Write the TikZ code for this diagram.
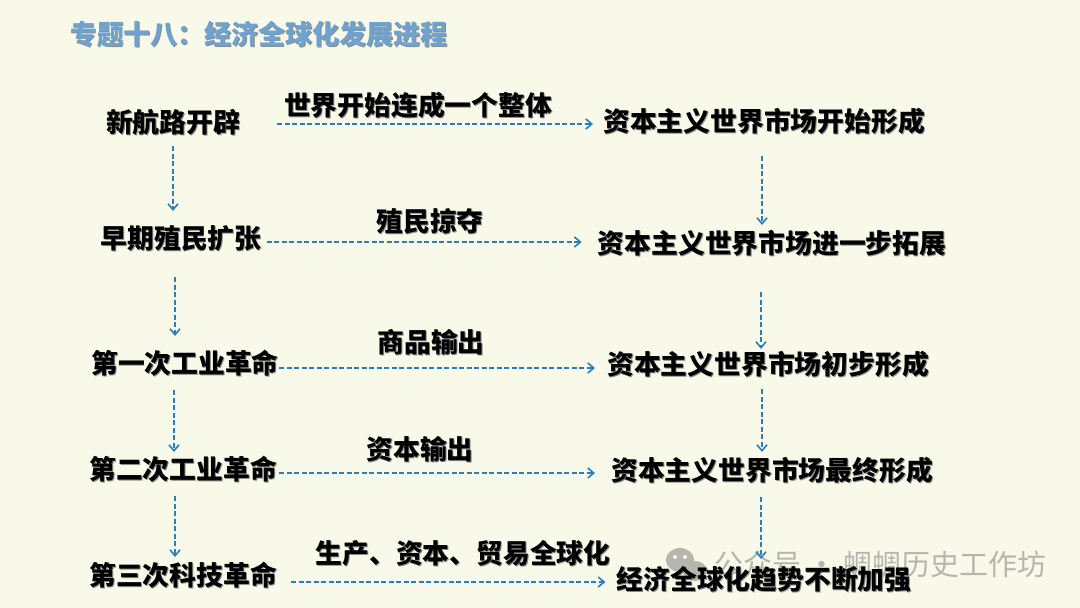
\documentclass[tikz,border=0pt]{standalone}
\usepackage{fontspec}
\setmainfont{Noto Sans CJK SC}
\usepackage{tikz}
\usetikzlibrary{arrows.meta, positioning}

\definecolor{paper}{HTML}{F8F9E8}
\definecolor{linkblue}{HTML}{2A7FBA}
\definecolor{headblue}{HTML}{6FA3CF}
\definecolor{wmgray}{HTML}{B6B6AE}

% text with a soft drop shadow
\newcommand{\shadowtext}[2]{\makebox[0pt][l]{\hspace{#2}\raisebox{-#2}{\textcolor{black!45}{#1}}}#1}

\begin{document}
\begin{tikzpicture}[
    x=1pt, y=-1pt,
    stage/.style={font=\bfseries\fontsize{26.8}{30}\selectfont, inner sep=0pt, text=black, yshift=-1pt},
    link/.style={-{Straight Barb[length=6pt,width=10pt,line width=1.6pt]}, linkblue, dash pattern=on 5pt off 2.5pt, line width=1.6pt},
    wmtext/.style={font=\fontsize{29}{32}\selectfont, inner sep=0pt, text=wmgray}
]
\useasboundingbox[fill=paper] (0,0) rectangle (1080,608);

% Title
\node[inner sep=0pt, font=\bfseries\fontsize{27}{30}\selectfont, text=headblue] (title) at (259,35) {\shadowtext{专题十八：经济全球化发展进程}{1pt}};

% Watermark
\fill[wmgray] (680,560) ellipse (14 and 12);
\fill[wmgray] (695,571) ellipse (12 and 10);
\fill[paper] (675,557) circle (2) (685,557) circle (2);
\node[wmtext] (wm) at (880,564) {公众号 · 蜩蜩历史工作坊};

% Left column
\node[stage] (route) at (173,122) {\shadowtext{新航路开辟}{1pt}};
\node[stage] (colony) at (181,238) {\shadowtext{早期殖民扩张}{1pt}};
\node[stage] (first) at (185,363) {\shadowtext{第一次工业革命}{1pt}};
\node[stage] (second) at (183,469) {\shadowtext{第二次工业革命}{1pt}};
\node[stage] (third) at (183,575) {\shadowtext{第三次科技革命}{1pt}};

% Right column
\node[stage] (begin) at (764,121) {\shadowtext{资本主义世界市场开始形成}{1pt}};
\node[stage] (extend) at (772,243) {\shadowtext{资本主义世界市场进一步拓展}{1pt}};
\node[stage] (early) at (768,364) {\shadowtext{资本主义世界市场初步形成}{1pt}};
\node[stage] (final) at (772,470) {\shadowtext{资本主义世界市场最终形成}{1pt}};
\node[stage] (global) at (764,579) {\shadowtext{经济全球化趋势不断加强}{1pt}};

% Horizontal links
\draw[link] ([xshift=37pt,yshift=-1pt]route.east) -- ([xshift=-10pt,yshift=-2pt]begin.west);
\draw[link] ([xshift=5pt,yshift=-3pt]colony.east) -- ([xshift=-16pt,yshift=2pt]extend.west);
\draw[link] ([yshift=-4pt]first.east) -- ([xshift=-12pt,yshift=-3pt]early.west);
\draw[link] ([xshift=2pt,yshift=-3pt]second.east) -- ([xshift=-16pt,yshift=-2pt]final.west);
\draw[link] ([xshift=14pt,yshift=-6pt]third.east) -- ([xshift=-11pt,yshift=-2pt]global.west);

% Link labels
\node[stage] (note1) at (418,105) {\shadowtext{世界开始连成一个整体}{1pt}};
\node[stage] (note2) at (430,221) {\shadowtext{殖民掠夺}{1pt}};
\node[stage] (note3) at (431,342) {\shadowtext{商品输出}{1pt}};
\node[stage] (note4) at (420,449) {\shadowtext{资本输出}{1pt}};
\node[stage] (note5) at (463,553) {\shadowtext{生产、资本、贸易全球化}{1pt}};

% Vertical links, left
\draw[link] ([yshift=-23pt]route.center) -- ([xshift=-8pt,yshift=28pt]colony.center);
\draw[link] ([xshift=-6pt,yshift=-38pt]colony.center) -- ([xshift=-10pt,yshift=28pt]first.center);
\draw[link] ([xshift=-11pt,yshift=-26pt]first.center) -- ([xshift=-9pt,yshift=18pt]second.center);
\draw[link] ([xshift=-8pt,yshift=-26pt]second.center) -- ([xshift=-8pt,yshift=19pt]third.center);

% Vertical links, right
\draw[link] ([xshift=-2pt,yshift=-34pt]begin.center) -- ([xshift=-10pt,yshift=19pt]extend.center);
\draw[link] ([xshift=-11pt,yshift=-48pt]extend.center) -- ([xshift=-7pt,yshift=16pt]early.center);
\draw[link] ([xshift=-6pt,yshift=-24pt]early.center) -- ([xshift=-10pt,yshift=19pt]final.center);
\draw[link] ([xshift=-11pt,yshift=-26pt]final.center) -- ([xshift=-3pt,yshift=21pt]global.center);

\end{tikzpicture}
\end{document}
